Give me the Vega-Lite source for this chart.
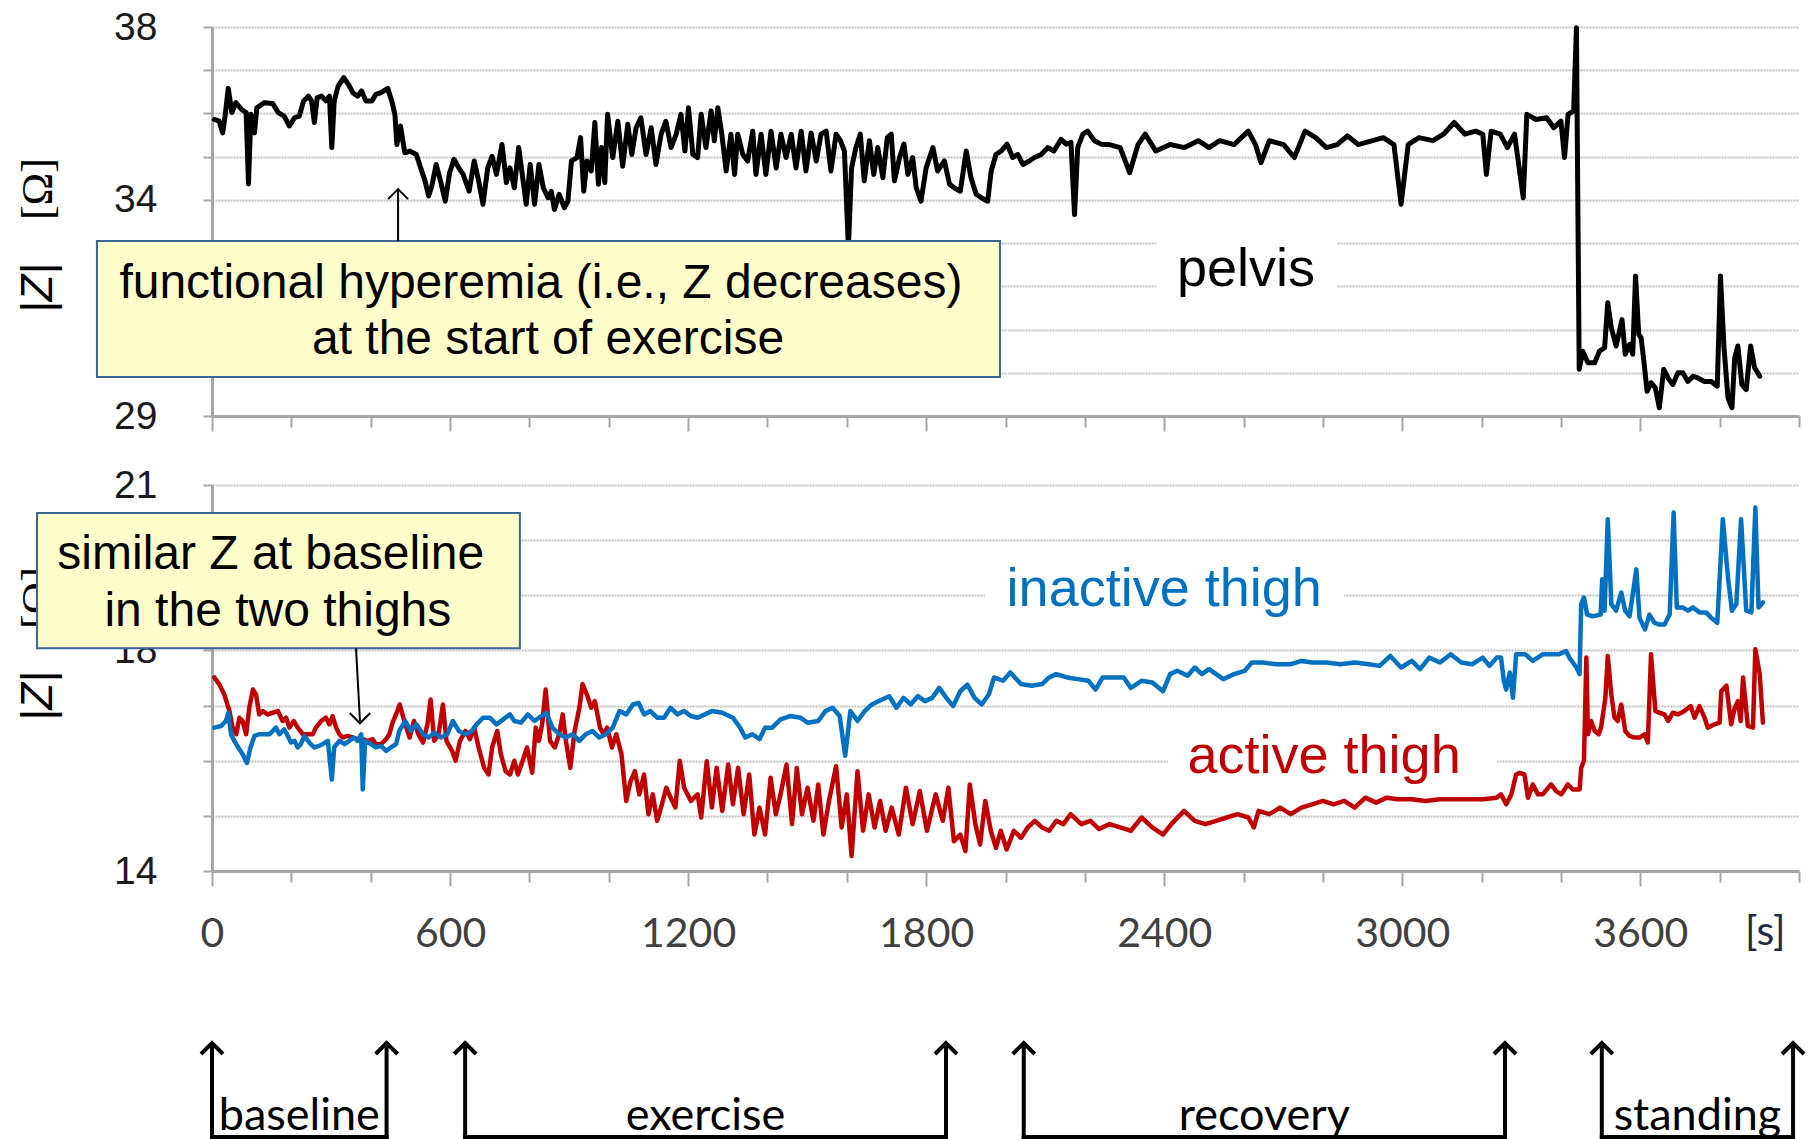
{
  "$schema": "https://vega.github.io/schema/vega-lite/v6.json",
  "background": "white",
  "padding": {"left": 17, "top": 8, "right": 0, "bottom": 0},
  "bounds": "flush",
  "spacing": 69,
  "config": {
    "view": {"stroke": null},
    "font": "Liberation Sans",
    "axis": {"labelOverlap": false, "labelFlush": false, "labelBound": false}
  },
  "resolve": {"scale": {"x": "independent", "y": "independent"}},
  "datasets": {
    "pelvis": [
      {"t":6,"z":35.86},{"t":18,"z":35.82},{"t":27,"z":35.55},{"t":33,"z":35.94},{"t":41,"z":36.58},{"t":50,"z":36.02},{"t":60,"z":36.25},{"t":75,"z":36.09},{"t":86,"z":36.02},{"t":92,"z":34.37},{"t":98,"z":35.98},{"t":107,"z":35.55},{"t":113,"z":36.13},{"t":132,"z":36.25},{"t":153,"z":36.23},{"t":167,"z":36.02},{"t":182,"z":35.94},{"t":195,"z":35.71},{"t":208,"z":35.90},{"t":220,"z":35.94},{"t":231,"z":36.29},{"t":243,"z":36.40},{"t":251,"z":36.29},{"t":258,"z":35.79},{"t":265,"z":36.36},{"t":276,"z":36.40},{"t":287,"z":36.29},{"t":296,"z":36.40},{"t":302,"z":35.21},{"t":308,"z":36.29},{"t":318,"z":36.63},{"t":332,"z":36.83},{"t":344,"z":36.67},{"t":355,"z":36.48},{"t":367,"z":36.40},{"t":377,"z":36.52},{"t":388,"z":36.29},{"t":403,"z":36.29},{"t":413,"z":36.44},{"t":426,"z":36.48},{"t":443,"z":36.58},{"t":453,"z":36.29},{"t":461,"z":35.98},{"t":466,"z":35.28},{"t":475,"z":35.71},{"t":486,"z":35.09},{"t":498,"z":35.13},{"t":515,"z":35.05},{"t":526,"z":34.74},{"t":537,"z":34.44},{"t":546,"z":34.09},{"t":554,"z":34.32},{"t":565,"z":34.82},{"t":577,"z":34.40},{"t":588,"z":33.97},{"t":599,"z":34.63},{"t":610,"z":34.94},{"t":622,"z":34.74},{"t":633,"z":34.59},{"t":648,"z":34.20},{"t":661,"z":34.90},{"t":672,"z":34.44},{"t":683,"z":33.90},{"t":695,"z":34.74},{"t":706,"z":35.01},{"t":717,"z":34.59},{"t":731,"z":35.28},{"t":742,"z":34.40},{"t":751,"z":34.74},{"t":762,"z":34.28},{"t":773,"z":35.21},{"t":782,"z":34.59},{"t":792,"z":33.90},{"t":802,"z":34.82},{"t":813,"z":33.90},{"t":824,"z":34.82},{"t":835,"z":34.28},{"t":847,"z":34.05},{"t":855,"z":34.20},{"t":863,"z":33.78},{"t":875,"z":34.13},{"t":888,"z":33.82},{"t":897,"z":33.97},{"t":906,"z":34.90},{"t":920,"z":34.98},{"t":929,"z":35.44},{"t":937,"z":34.20},{"t":945,"z":34.90},{"t":956,"z":34.67},{"t":965,"z":35.79},{"t":974,"z":34.36},{"t":982,"z":35.21},{"t":990,"z":34.40},{"t":997,"z":35.98},{"t":1010,"z":34.98},{"t":1023,"z":35.82},{"t":1035,"z":34.78},{"t":1048,"z":35.75},{"t":1058,"z":35.05},{"t":1069,"z":35.67},{"t":1081,"z":35.90},{"t":1094,"z":35.05},{"t":1107,"z":35.67},{"t":1119,"z":34.82},{"t":1132,"z":35.52},{"t":1144,"z":35.82},{"t":1157,"z":35.21},{"t":1170,"z":35.52},{"t":1182,"z":35.98},{"t":1192,"z":35.13},{"t":1201,"z":36.13},{"t":1212,"z":35.05},{"t":1224,"z":34.98},{"t":1233,"z":35.98},{"t":1245,"z":35.21},{"t":1258,"z":36.06},{"t":1266,"z":35.37},{"t":1275,"z":36.13},{"t":1285,"z":35.52},{"t":1296,"z":34.67},{"t":1308,"z":35.52},{"t":1317,"z":34.59},{"t":1325,"z":35.52},{"t":1338,"z":35.05},{"t":1350,"z":34.90},{"t":1363,"z":35.59},{"t":1371,"z":34.59},{"t":1384,"z":35.52},{"t":1396,"z":34.59},{"t":1409,"z":35.59},{"t":1422,"z":34.74},{"t":1434,"z":35.52},{"t":1447,"z":34.98},{"t":1460,"z":35.52},{"t":1472,"z":34.74},{"t":1485,"z":35.59},{"t":1497,"z":34.67},{"t":1510,"z":35.55},{"t":1523,"z":34.90},{"t":1535,"z":35.52},{"t":1548,"z":35.59},{"t":1560,"z":34.67},{"t":1573,"z":35.52},{"t":1584,"z":35.37},{"t":1594,"z":35.13},{"t":1604,"z":32.90},{"t":1612,"z":34.74},{"t":1623,"z":35.21},{"t":1634,"z":35.52},{"t":1644,"z":34.44},{"t":1657,"z":35.37},{"t":1668,"z":34.59},{"t":1678,"z":35.21},{"t":1691,"z":34.51},{"t":1702,"z":35.44},{"t":1712,"z":35.52},{"t":1720,"z":34.44},{"t":1733,"z":34.98},{"t":1744,"z":35.29},{"t":1754,"z":34.59},{"t":1766,"z":34.98},{"t":1775,"z":34.28},{"t":1787,"z":33.97},{"t":1800,"z":34.74},{"t":1817,"z":35.21},{"t":1829,"z":34.67},{"t":1846,"z":34.90},{"t":1859,"z":34.36},{"t":1871,"z":34.28},{"t":1886,"z":34.20},{"t":1901,"z":35.13},{"t":1913,"z":34.51},{"t":1926,"z":34.13},{"t":1939,"z":34.05},{"t":1955,"z":33.97},{"t":1964,"z":34.67},{"t":1976,"z":35.05},{"t":1989,"z":35.13},{"t":2004,"z":35.29},{"t":2018,"z":34.98},{"t":2031,"z":35.05},{"t":2044,"z":34.82},{"t":2060,"z":34.90},{"t":2073,"z":34.98},{"t":2090,"z":35.05},{"t":2107,"z":35.21},{"t":2122,"z":35.13},{"t":2140,"z":35.40},{"t":2153,"z":35.29},{"t":2165,"z":35.33},{"t":2174,"z":33.66},{"t":2182,"z":35.21},{"t":2195,"z":35.52},{"t":2207,"z":35.59},{"t":2224,"z":35.37},{"t":2241,"z":35.29},{"t":2262,"z":35.28},{"t":2289,"z":35.21},{"t":2313,"z":34.63},{"t":2334,"z":35.28},{"t":2352,"z":35.52},{"t":2379,"z":35.13},{"t":2415,"z":35.28},{"t":2451,"z":35.21},{"t":2486,"z":35.37},{"t":2513,"z":35.21},{"t":2540,"z":35.37},{"t":2576,"z":35.28},{"t":2612,"z":35.59},{"t":2630,"z":35.28},{"t":2644,"z":34.86},{"t":2665,"z":35.37},{"t":2701,"z":35.28},{"t":2728,"z":34.98},{"t":2755,"z":35.59},{"t":2782,"z":35.44},{"t":2809,"z":35.21},{"t":2836,"z":35.28},{"t":2862,"z":35.48},{"t":2889,"z":35.28},{"t":2925,"z":35.37},{"t":2952,"z":35.44},{"t":2979,"z":35.28},{"t":2997,"z":33.90},{"t":3015,"z":35.28},{"t":3042,"z":35.44},{"t":3077,"z":35.37},{"t":3104,"z":35.52},{"t":3131,"z":35.79},{"t":3158,"z":35.52},{"t":3185,"z":35.59},{"t":3203,"z":35.52},{"t":3212,"z":34.59},{"t":3224,"z":35.59},{"t":3247,"z":35.52},{"t":3265,"z":35.21},{"t":3283,"z":35.52},{"t":3305,"z":34.05},{"t":3314,"z":35.98},{"t":3337,"z":35.86},{"t":3364,"z":35.90},{"t":3382,"z":35.67},{"t":3400,"z":35.82},{"t":3409,"z":34.98},{"t":3418,"z":35.98},{"t":3432,"z":36.06},{"t":3439,"z":37.98},{"t":3446,"z":30.08},{"t":3455,"z":30.50},{"t":3468,"z":30.23},{"t":3485,"z":30.23},{"t":3497,"z":30.50},{"t":3510,"z":30.58},{"t":3518,"z":31.62},{"t":3527,"z":31.04},{"t":3539,"z":30.62},{"t":3554,"z":31.23},{"t":3562,"z":30.43},{"t":3573,"z":30.66},{"t":3581,"z":30.43},{"t":3588,"z":32.24},{"t":3596,"z":30.89},{"t":3602,"z":30.81},{"t":3609,"z":30.27},{"t":3617,"z":29.57},{"t":3627,"z":29.77},{"t":3638,"z":29.65},{"t":3648,"z":29.19},{"t":3659,"z":30.08},{"t":3670,"z":29.88},{"t":3682,"z":29.73},{"t":3695,"z":30.00},{"t":3707,"z":30.00},{"t":3720,"z":29.80},{"t":3733,"z":29.92},{"t":3745,"z":29.88},{"t":3762,"z":29.80},{"t":3779,"z":29.80},{"t":3794,"z":29.69},{"t":3802,"z":32.24},{"t":3811,"z":30.58},{"t":3821,"z":29.42},{"t":3831,"z":29.19},{"t":3838,"z":30.35},{"t":3846,"z":30.62},{"t":3856,"z":29.73},{"t":3867,"z":29.61},{"t":3878,"z":30.62},{"t":3888,"z":30.12},{"t":3901,"z":29.92}
    ],
    "active": [
      {"t":6,"z":17.51},{"t":18,"z":17.39},{"t":31,"z":17.20},{"t":44,"z":16.90},{"t":52,"z":16.60},{"t":61,"z":16.48},{"t":69,"z":16.78},{"t":77,"z":16.72},{"t":86,"z":16.48},{"t":94,"z":16.96},{"t":103,"z":17.29},{"t":111,"z":17.20},{"t":119,"z":16.84},{"t":128,"z":16.90},{"t":140,"z":16.84},{"t":153,"z":16.87},{"t":166,"z":16.90},{"t":178,"z":16.72},{"t":187,"z":16.78},{"t":195,"z":16.60},{"t":206,"z":16.72},{"t":216,"z":16.60},{"t":229,"z":16.48},{"t":241,"z":16.48},{"t":254,"z":16.48},{"t":262,"z":16.60},{"t":275,"z":16.72},{"t":287,"z":16.78},{"t":296,"z":16.66},{"t":304,"z":16.81},{"t":313,"z":16.60},{"t":321,"z":16.48},{"t":329,"z":16.42},{"t":342,"z":16.45},{"t":355,"z":16.42},{"t":367,"z":16.39},{"t":380,"z":16.39},{"t":392,"z":16.36},{"t":405,"z":16.39},{"t":413,"z":16.30},{"t":426,"z":16.30},{"t":439,"z":16.39},{"t":447,"z":16.48},{"t":455,"z":16.69},{"t":464,"z":16.84},{"t":473,"z":17.02},{"t":487,"z":16.66},{"t":498,"z":16.42},{"t":509,"z":16.72},{"t":520,"z":16.48},{"t":532,"z":16.33},{"t":543,"z":16.66},{"t":551,"z":17.11},{"t":560,"z":16.36},{"t":571,"z":16.48},{"t":582,"z":17.02},{"t":591,"z":16.36},{"t":605,"z":16.18},{"t":614,"z":16.00},{"t":625,"z":16.36},{"t":639,"z":16.54},{"t":650,"z":16.39},{"t":661,"z":16.60},{"t":672,"z":16.24},{"t":686,"z":15.87},{"t":697,"z":15.75},{"t":706,"z":16.24},{"t":719,"z":16.54},{"t":728,"z":16.12},{"t":740,"z":15.81},{"t":751,"z":15.75},{"t":762,"z":16.00},{"t":771,"z":15.75},{"t":783,"z":16.00},{"t":794,"z":16.24},{"t":807,"z":15.78},{"t":816,"z":16.60},{"t":824,"z":16.36},{"t":832,"z":16.66},{"t":841,"z":17.29},{"t":852,"z":16.36},{"t":864,"z":16.24},{"t":875,"z":16.48},{"t":884,"z":16.84},{"t":892,"z":16.36},{"t":903,"z":15.87},{"t":914,"z":16.54},{"t":926,"z":16.96},{"t":934,"z":17.39},{"t":945,"z":17.20},{"t":956,"z":16.96},{"t":965,"z":17.08},{"t":978,"z":16.60},{"t":987,"z":16.48},{"t":996,"z":16.60},{"t":1008,"z":16.24},{"t":1019,"z":16.48},{"t":1032,"z":16.12},{"t":1044,"z":15.27},{"t":1055,"z":15.63},{"t":1066,"z":15.81},{"t":1077,"z":15.39},{"t":1089,"z":15.75},{"t":1100,"z":15.03},{"t":1111,"z":15.39},{"t":1122,"z":14.91},{"t":1134,"z":15.21},{"t":1145,"z":15.51},{"t":1156,"z":15.33},{"t":1168,"z":15.15},{"t":1179,"z":16.00},{"t":1190,"z":15.51},{"t":1207,"z":15.27},{"t":1224,"z":15.39},{"t":1233,"z":14.97},{"t":1247,"z":15.99},{"t":1260,"z":15.15},{"t":1272,"z":15.87},{"t":1286,"z":15.09},{"t":1301,"z":15.93},{"t":1313,"z":15.21},{"t":1326,"z":15.87},{"t":1340,"z":15.03},{"t":1354,"z":15.75},{"t":1367,"z":14.66},{"t":1380,"z":15.15},{"t":1394,"z":14.66},{"t":1408,"z":15.69},{"t":1421,"z":15.03},{"t":1433,"z":15.39},{"t":1448,"z":15.93},{"t":1462,"z":14.85},{"t":1474,"z":15.87},{"t":1487,"z":15.03},{"t":1501,"z":15.51},{"t":1516,"z":14.91},{"t":1528,"z":15.57},{"t":1541,"z":14.66},{"t":1555,"z":15.27},{"t":1573,"z":15.90},{"t":1587,"z":14.79},{"t":1600,"z":15.39},{"t":1612,"z":14.27},{"t":1627,"z":15.81},{"t":1641,"z":14.73},{"t":1655,"z":15.39},{"t":1670,"z":14.79},{"t":1684,"z":15.27},{"t":1698,"z":14.73},{"t":1713,"z":15.15},{"t":1731,"z":14.66},{"t":1749,"z":15.51},{"t":1766,"z":14.85},{"t":1784,"z":15.45},{"t":1802,"z":14.73},{"t":1824,"z":15.39},{"t":1842,"z":14.91},{"t":1856,"z":15.51},{"t":1870,"z":14.54},{"t":1886,"z":14.66},{"t":1899,"z":14.36},{"t":1910,"z":15.57},{"t":1924,"z":14.85},{"t":1936,"z":14.48},{"t":1949,"z":15.27},{"t":1963,"z":14.73},{"t":1976,"z":14.42},{"t":1988,"z":14.73},{"t":2003,"z":14.39},{"t":2021,"z":14.73},{"t":2039,"z":14.60},{"t":2056,"z":14.79},{"t":2074,"z":14.91},{"t":2092,"z":14.79},{"t":2110,"z":14.73},{"t":2128,"z":14.91},{"t":2146,"z":14.85},{"t":2164,"z":15.03},{"t":2191,"z":14.85},{"t":2214,"z":14.91},{"t":2236,"z":14.76},{"t":2262,"z":14.85},{"t":2289,"z":14.79},{"t":2316,"z":14.73},{"t":2343,"z":14.97},{"t":2370,"z":14.79},{"t":2397,"z":14.66},{"t":2418,"z":14.85},{"t":2450,"z":15.09},{"t":2477,"z":14.91},{"t":2504,"z":14.85},{"t":2531,"z":14.91},{"t":2558,"z":14.97},{"t":2585,"z":15.03},{"t":2612,"z":14.97},{"t":2626,"z":14.79},{"t":2638,"z":15.09},{"t":2665,"z":15.03},{"t":2692,"z":15.15},{"t":2719,"z":15.03},{"t":2746,"z":15.15},{"t":2773,"z":15.21},{"t":2800,"z":15.27},{"t":2827,"z":15.21},{"t":2854,"z":15.27},{"t":2880,"z":15.15},{"t":2907,"z":15.33},{"t":2934,"z":15.24},{"t":2961,"z":15.33},{"t":2988,"z":15.30},{"t":3024,"z":15.30},{"t":3059,"z":15.27},{"t":3095,"z":15.30},{"t":3131,"z":15.30},{"t":3167,"z":15.30},{"t":3203,"z":15.30},{"t":3238,"z":15.33},{"t":3249,"z":15.39},{"t":3262,"z":15.21},{"t":3275,"z":15.39},{"t":3287,"z":15.75},{"t":3296,"z":15.78},{"t":3308,"z":15.75},{"t":3317,"z":15.33},{"t":3329,"z":15.57},{"t":3342,"z":15.39},{"t":3354,"z":15.39},{"t":3375,"z":15.57},{"t":3388,"z":15.45},{"t":3401,"z":15.39},{"t":3417,"z":15.57},{"t":3430,"z":15.48},{"t":3447,"z":15.48},{"t":3451,"z":15.87},{"t":3458,"z":16.00},{"t":3464,"z":17.87},{"t":3468,"z":16.48},{"t":3476,"z":16.72},{"t":3485,"z":16.54},{"t":3495,"z":16.48},{"t":3501,"z":16.60},{"t":3512,"z":17.14},{"t":3518,"z":17.90},{"t":3527,"z":17.20},{"t":3535,"z":16.78},{"t":3543,"z":16.72},{"t":3552,"z":17.02},{"t":3562,"z":16.54},{"t":3573,"z":16.45},{"t":3585,"z":16.42},{"t":3598,"z":16.42},{"t":3611,"z":16.48},{"t":3619,"z":16.33},{"t":3627,"z":17.93},{"t":3638,"z":16.90},{"t":3648,"z":16.87},{"t":3661,"z":16.84},{"t":3670,"z":16.72},{"t":3682,"z":16.87},{"t":3695,"z":16.84},{"t":3711,"z":16.90},{"t":3727,"z":16.99},{"t":3737,"z":16.78},{"t":3749,"z":16.99},{"t":3762,"z":16.78},{"t":3770,"z":16.60},{"t":3787,"z":16.66},{"t":3800,"z":16.69},{"t":3804,"z":17.26},{"t":3817,"z":17.36},{"t":3829,"z":16.66},{"t":3838,"z":16.96},{"t":3846,"z":17.08},{"t":3853,"z":16.72},{"t":3859,"z":17.51},{"t":3871,"z":16.63},{"t":3884,"z":16.60},{"t":3890,"z":18.02},{"t":3901,"z":17.57},{"t":3909,"z":16.69}
    ],
    "inactive": [
      {"t":6,"z":16.60},{"t":23,"z":16.63},{"t":35,"z":16.72},{"t":41,"z":16.87},{"t":48,"z":16.48},{"t":56,"z":16.36},{"t":66,"z":16.24},{"t":77,"z":16.12},{"t":88,"z":15.96},{"t":97,"z":16.24},{"t":107,"z":16.45},{"t":119,"z":16.48},{"t":132,"z":16.48},{"t":145,"z":16.48},{"t":153,"z":16.54},{"t":161,"z":16.60},{"t":170,"z":16.48},{"t":182,"z":16.57},{"t":191,"z":16.45},{"t":199,"z":16.33},{"t":208,"z":16.36},{"t":216,"z":16.24},{"t":224,"z":16.30},{"t":233,"z":16.45},{"t":245,"z":16.33},{"t":258,"z":16.24},{"t":270,"z":16.27},{"t":279,"z":16.30},{"t":292,"z":16.36},{"t":302,"z":15.66},{"t":308,"z":16.24},{"t":321,"z":16.36},{"t":334,"z":16.30},{"t":346,"z":16.36},{"t":357,"z":16.42},{"t":367,"z":16.36},{"t":376,"z":16.48},{"t":380,"z":15.48},{"t":386,"z":16.36},{"t":401,"z":16.30},{"t":413,"z":16.24},{"t":426,"z":16.27},{"t":439,"z":16.18},{"t":451,"z":16.24},{"t":464,"z":16.30},{"t":472,"z":16.54},{"t":487,"z":16.72},{"t":501,"z":16.54},{"t":515,"z":16.66},{"t":532,"z":16.48},{"t":546,"z":16.42},{"t":560,"z":16.51},{"t":577,"z":16.42},{"t":593,"z":16.48},{"t":607,"z":16.72},{"t":622,"z":16.54},{"t":639,"z":16.48},{"t":655,"z":16.54},{"t":667,"z":16.66},{"t":683,"z":16.78},{"t":700,"z":16.78},{"t":717,"z":16.66},{"t":734,"z":16.75},{"t":751,"z":16.84},{"t":762,"z":16.72},{"t":779,"z":16.69},{"t":796,"z":16.84},{"t":813,"z":16.72},{"t":830,"z":16.81},{"t":843,"z":16.87},{"t":858,"z":16.60},{"t":875,"z":16.48},{"t":892,"z":16.42},{"t":909,"z":16.48},{"t":926,"z":16.36},{"t":942,"z":16.48},{"t":959,"z":16.54},{"t":976,"z":16.42},{"t":993,"z":16.48},{"t":1010,"z":16.60},{"t":1027,"z":16.90},{"t":1044,"z":16.84},{"t":1061,"z":17.02},{"t":1075,"z":17.05},{"t":1089,"z":16.84},{"t":1105,"z":16.90},{"t":1122,"z":16.78},{"t":1139,"z":16.78},{"t":1156,"z":16.96},{"t":1173,"z":16.84},{"t":1190,"z":16.90},{"t":1207,"z":16.81},{"t":1224,"z":16.78},{"t":1260,"z":16.90},{"t":1286,"z":16.87},{"t":1313,"z":16.78},{"t":1331,"z":16.60},{"t":1344,"z":16.42},{"t":1362,"z":16.48},{"t":1380,"z":16.39},{"t":1394,"z":16.60},{"t":1412,"z":16.60},{"t":1433,"z":16.75},{"t":1457,"z":16.81},{"t":1483,"z":16.78},{"t":1501,"z":16.69},{"t":1528,"z":16.72},{"t":1546,"z":16.90},{"t":1564,"z":16.96},{"t":1582,"z":16.81},{"t":1596,"z":16.09},{"t":1609,"z":16.90},{"t":1627,"z":16.72},{"t":1645,"z":16.90},{"t":1663,"z":17.02},{"t":1689,"z":17.11},{"t":1707,"z":17.17},{"t":1725,"z":16.96},{"t":1743,"z":17.14},{"t":1761,"z":17.02},{"t":1779,"z":17.17},{"t":1797,"z":17.08},{"t":1815,"z":17.14},{"t":1833,"z":17.32},{"t":1851,"z":17.14},{"t":1868,"z":16.99},{"t":1886,"z":17.26},{"t":1904,"z":17.38},{"t":1922,"z":17.14},{"t":1940,"z":17.02},{"t":1958,"z":17.20},{"t":1971,"z":17.51},{"t":1994,"z":17.45},{"t":2012,"z":17.60},{"t":2039,"z":17.39},{"t":2066,"z":17.36},{"t":2092,"z":17.39},{"t":2110,"z":17.51},{"t":2128,"z":17.57},{"t":2155,"z":17.51},{"t":2182,"z":17.48},{"t":2209,"z":17.45},{"t":2227,"z":17.29},{"t":2245,"z":17.51},{"t":2271,"z":17.51},{"t":2298,"z":17.51},{"t":2316,"z":17.32},{"t":2343,"z":17.45},{"t":2370,"z":17.42},{"t":2397,"z":17.26},{"t":2415,"z":17.57},{"t":2433,"z":17.63},{"t":2459,"z":17.54},{"t":2477,"z":17.69},{"t":2495,"z":17.57},{"t":2513,"z":17.66},{"t":2531,"z":17.57},{"t":2549,"z":17.48},{"t":2576,"z":17.57},{"t":2603,"z":17.63},{"t":2621,"z":17.78},{"t":2648,"z":17.78},{"t":2683,"z":17.75},{"t":2719,"z":17.75},{"t":2746,"z":17.81},{"t":2773,"z":17.78},{"t":2809,"z":17.78},{"t":2844,"z":17.75},{"t":2880,"z":17.78},{"t":2916,"z":17.75},{"t":2943,"z":17.72},{"t":2970,"z":17.90},{"t":2997,"z":17.69},{"t":3024,"z":17.81},{"t":3045,"z":17.66},{"t":3068,"z":17.87},{"t":3095,"z":17.78},{"t":3122,"z":17.93},{"t":3149,"z":17.78},{"t":3176,"z":17.75},{"t":3203,"z":17.87},{"t":3220,"z":17.72},{"t":3238,"z":17.87},{"t":3249,"z":17.87},{"t":3256,"z":17.45},{"t":3262,"z":17.29},{"t":3271,"z":17.60},{"t":3279,"z":17.14},{"t":3287,"z":17.93},{"t":3310,"z":17.93},{"t":3329,"z":17.81},{"t":3354,"z":17.93},{"t":3375,"z":17.93},{"t":3395,"z":17.93},{"t":3413,"z":17.99},{"t":3421,"z":17.87},{"t":3430,"z":17.78},{"t":3439,"z":17.69},{"t":3447,"z":17.57},{"t":3451,"z":18.84},{"t":3458,"z":18.96},{"t":3466,"z":18.65},{"t":3480,"z":18.62},{"t":3500,"z":18.65},{"t":3504,"z":19.29},{"t":3510,"z":18.72},{"t":3518,"z":20.38},{"t":3527,"z":18.84},{"t":3539,"z":18.72},{"t":3552,"z":19.05},{"t":3562,"z":18.72},{"t":3573,"z":18.62},{"t":3590,"z":19.47},{"t":3598,"z":18.59},{"t":3612,"z":18.38},{"t":3623,"z":18.65},{"t":3636,"z":18.50},{"t":3648,"z":18.47},{"t":3661,"z":18.47},{"t":3674,"z":18.65},{"t":3684,"z":20.50},{"t":3692,"z":18.78},{"t":3707,"z":18.78},{"t":3720,"z":18.72},{"t":3733,"z":18.78},{"t":3749,"z":18.69},{"t":3766,"z":18.69},{"t":3779,"z":18.59},{"t":3794,"z":18.50},{"t":3808,"z":20.38},{"t":3821,"z":19.32},{"t":3831,"z":18.72},{"t":3842,"z":18.84},{"t":3854,"z":20.38},{"t":3867,"z":18.72},{"t":3880,"z":18.69},{"t":3890,"z":20.59},{"t":3898,"z":18.78},{"t":3909,"z":18.87}
    ],
    "phases": [
      {"phase": "baseline", "start": 0, "end": 440},
      {"phase": "exercise", "start": 638, "end": 1850},
      {"phase": "recovery", "start": 2046, "end": 3259},
      {"phase": "standing", "start": 3503, "end": 3985}
    ]
  },
  "vconcat": [
    {
      "width": 1587,
      "height": 389,
      "layer": [
        {
          "data": {"name": "pelvis"},
          "mark": {"type": "line", "color": "#000000", "strokeWidth": 5, "strokeJoin": "round", "strokeCap": "round"},
          "encoding": {
            "x": {"field": "t", "type": "quantitative", "title": null,
                  "scale": {"domain": [0, 4000], "nice": false, "zero": false},
                  "axis": {"values": [0,100,200,300,400,500,600,700,800,900,1000,1100,1200,1300,1400,1500,1600,1700,1800,1900,2000,2100,2200,2300,2400,2500,2600,2700,2800,2900,3000,3100,3200,3300,3400,3500,3600,3700,3800,3900,4000],
                           "title": null, "labels": false, "grid": false,
                           "domainColor": "#a6a6a6", "domainWidth": 3, "tickColor": "#a6a6a6", "tickWidth": 2,
                           "tickSize": {"condition": {"test": "datum.value % 600 === 0", "value": 15}, "value": 11}}},
            "y": {"field": "z", "type": "quantitative", "title": null,
                  "scale": {"domain": [29, 38], "nice": false, "zero": false},
                  "axis": {"values": [29,30,31,32,33,34,35,36,37,38], "title": null, "format": "d",
                           "grid": true, "gridColor": "#bfbfbf", "gridDash": [2, 1], "gridWidth": 2,
                           "domainColor": "#a6a6a6", "domainWidth": 3, "tickColor": "#a6a6a6", "tickWidth": 2, "tickSize": 9,
                           "labelExpr": "datum.value == 38 || datum.value == 34 || datum.value == 29 ? datum.label : ''",
                           "labelFont": "Liberation Sans", "labelFontSize": 39, "labelColor": "#1a1a1a",
                           "labelPadding": 46, "labelBaseline": "middle"}}
          }
        },
        {
          "data": {"values": [{}]},
          "mark": {"type": "rect", "fill": "white"},
          "encoding": {"x": {"datum": 2379, "type": "quantitative"}, "x2": {"datum": 2836},
                       "y": {"datum": 33.3, "type": "quantitative"}, "y2": {"datum": 31.7}}
        },
        {
          "data": {"values": [{}]},
          "mark": {"type": "text", "text": "pelvis", "font": "Liberation Sans", "fontSize": 54, "align": "center", "baseline": "alphabetic", "color": "#000000"},
          "encoding": {"x": {"datum": 2606, "type": "quantitative"}, "y": {"datum": 32.01, "type": "quantitative"}}
        },
        {
          "data": {"values": [{}]},
          "mark": {"type": "text", "text": "[Ω]", "font": "Liberation Serif", "fontSize": 44, "angle": 270, "align": "center", "baseline": "middle", "color": "#000000"},
          "encoding": {"x": {"datum": -436, "type": "quantitative"}, "y": {"datum": 34.25, "type": "quantitative"}}
        },
        {
          "data": {"values": [{}]},
          "mark": {"type": "text", "text": "|Z|", "font": "Liberation Sans", "fontStyle": "italic", "fontSize": 44, "angle": 270, "align": "center", "baseline": "middle", "color": "#000000"},
          "encoding": {"x": {"datum": -436, "type": "quantitative"}, "y": {"datum": 31.96, "type": "quantitative"}}
        },
        {
          "data": {"values": [{}]},
          "mark": {"type": "rect", "fill": "#FFFFCC", "stroke": "#3d6496", "strokeWidth": 2},
          "encoding": {"x": {"datum": -290, "type": "quantitative"}, "x2": {"datum": 1986},
                       "y": {"datum": 33.05, "type": "quantitative"}, "y2": {"datum": 29.9}}
        },
        {
          "data": {"values": [{}]},
          "mark": {"type": "text", "text": "functional hyperemia (i.e., Z decreases)", "font": "Liberation Sans", "fontSize": 48, "align": "center", "baseline": "alphabetic", "color": "#000000"},
          "encoding": {"x": {"datum": 829, "type": "quantitative"}, "y": {"datum": 31.73, "type": "quantitative"}}
        },
        {
          "data": {"values": [{}]},
          "mark": {"type": "text", "text": "at the start of exercise", "font": "Liberation Sans", "fontSize": 48, "align": "center", "baseline": "alphabetic", "color": "#000000"},
          "encoding": {"x": {"datum": 847, "type": "quantitative"}, "y": {"datum": 30.43, "type": "quantitative"}}
        },
        {
          "data": {"values": [{}]},
          "mark": {"type": "rule", "color": "#000000", "strokeWidth": 2},
          "encoding": {"x": {"datum": 469, "type": "quantitative"}, "y": {"datum": 33.05, "type": "quantitative"}, "y2": {"datum": 34.22}}
        },
        {
          "data": {"values": [{}]},
          "mark": {"type": "point", "shape": "M -1 1 L 0 0 L 1 1", "filled": false, "stroke": "#000000", "strokeWidth": 2, "size": 400, "opacity": 1},
          "encoding": {"x": {"datum": 469, "type": "quantitative"}, "y": {"datum": 34.25, "type": "quantitative"}}
        }
      ]
    },
    {
      "width": 1587,
      "height": 386,
      "layer": [
        {
          "data": {"name": "active"},
          "mark": {"type": "line", "color": "#C00000", "strokeWidth": 4.5, "strokeJoin": "round", "strokeCap": "round"},
          "encoding": {
            "x": {"field": "t", "type": "quantitative", "title": null,
                  "scale": {"domain": [0, 4000], "nice": false, "zero": false},
                  "axis": {"values": [0,100,200,300,400,500,600,700,800,900,1000,1100,1200,1300,1400,1500,1600,1700,1800,1900,2000,2100,2200,2300,2400,2500,2600,2700,2800,2900,3000,3100,3200,3300,3400,3500,3600,3700,3800,3900,4000],
                           "title": null, "grid": false, "format": "d",
                           "domainColor": "#a6a6a6", "domainWidth": 3, "tickColor": "#a6a6a6", "tickWidth": 2,
                           "tickSize": {"condition": {"test": "datum.value % 600 === 0", "value": 15}, "value": 11},
                           "labelExpr": "datum.value % 600 === 0 && datum.value <= 3600 ? datum.label : ''",
                           "labelFont": "Lato", "labelFontSize": 41, "labelColor": "#404040",
                           "labelAlign": "center", "labelBaseline": "middle", "labelPadding": 48}},
            "y": {"field": "z", "type": "quantitative", "title": null,
                  "scale": {"domain": [14, 21], "nice": false, "zero": false},
                  "axis": {"values": [14,15,16,17,18,19,20,21], "title": null, "format": "d",
                           "grid": true, "gridColor": "#bfbfbf", "gridDash": [2, 1], "gridWidth": 2,
                           "domainColor": "#a6a6a6", "domainWidth": 3, "tickColor": "#a6a6a6", "tickWidth": 2, "tickSize": 9,
                           "labelExpr": "datum.value == 21 || datum.value == 18 || datum.value == 14 ? datum.label : ''",
                           "labelFont": "Liberation Sans", "labelFontSize": 39, "labelColor": "#1a1a1a",
                           "labelPadding": 46, "labelBaseline": "middle"}}
          }
        },
        {
          "data": {"name": "inactive"},
          "mark": {"type": "line", "color": "#0070C0", "strokeWidth": 4.5, "strokeJoin": "round", "strokeCap": "round"},
          "encoding": {
            "x": {"field": "t", "type": "quantitative", "title": null},
            "y": {"field": "z", "type": "quantitative", "title": null}
          }
        },
        {
          "data": {"values": [{}]},
          "mark": {"type": "text", "text": "[s]", "font": "Lato", "fontSize": 41, "align": "center", "baseline": "middle", "color": "#1f2a48"},
          "encoding": {"x": {"datum": 3915, "type": "quantitative"}, "y": {"datum": 12.87, "type": "quantitative"}}
        },
        {
          "data": {"values": [{}]},
          "mark": {"type": "rect", "fill": "white"},
          "encoding": {"x": {"datum": 1948, "type": "quantitative"}, "x2": {"datum": 2853},
                       "y": {"datum": 19.6, "type": "quantitative"}, "y2": {"datum": 18.5}}
        },
        {
          "data": {"values": [{}]},
          "mark": {"type": "rect", "fill": "white"},
          "encoding": {"x": {"datum": 2410, "type": "quantitative"}, "x2": {"datum": 3239},
                       "y": {"datum": 16.63, "type": "quantitative"}, "y2": {"datum": 15.4}}
        },
        {
          "data": {"values": [{}]},
          "mark": {"type": "text", "text": "inactive thigh", "font": "Liberation Sans", "fontSize": 54, "align": "center", "baseline": "alphabetic", "color": "#0070C0"},
          "encoding": {"x": {"datum": 2400, "type": "quantitative"}, "y": {"datum": 18.81, "type": "quantitative"}}
        },
        {
          "data": {"values": [{}]},
          "mark": {"type": "text", "text": "active thigh", "font": "Liberation Sans", "fontSize": 54, "align": "center", "baseline": "alphabetic", "color": "#C00000"},
          "encoding": {"x": {"datum": 2803, "type": "quantitative"}, "y": {"datum": 15.78, "type": "quantitative"}}
        },
        {
          "data": {"values": [{}]},
          "mark": {"type": "text", "text": "[Ω]", "font": "Liberation Serif", "fontSize": 44, "angle": 270, "align": "center", "baseline": "middle", "color": "#000000"},
          "encoding": {"x": {"datum": -436, "type": "quantitative"}, "y": {"datum": 18.95, "type": "quantitative"}}
        },
        {
          "data": {"values": [{}]},
          "mark": {"type": "text", "text": "|Z|", "font": "Liberation Sans", "fontStyle": "italic", "fontSize": 44, "angle": 270, "align": "center", "baseline": "middle", "color": "#000000"},
          "encoding": {"x": {"datum": -436, "type": "quantitative"}, "y": {"datum": 17.17, "type": "quantitative"}}
        },
        {
          "data": {"values": [{}]},
          "mark": {"type": "rect", "fill": "#FFFFCC", "stroke": "#3d6496", "strokeWidth": 2},
          "encoding": {"x": {"datum": -441, "type": "quantitative"}, "x2": {"datum": 776},
                       "y": {"datum": 20.49, "type": "quantitative"}, "y2": {"datum": 18.04}}
        },
        {
          "data": {"values": [{}]},
          "mark": {"type": "text", "text": "similar Z at baseline", "font": "Liberation Sans", "fontSize": 48, "align": "center", "baseline": "alphabetic", "color": "#000000"},
          "encoding": {"x": {"datum": 148, "type": "quantitative"}, "y": {"datum": 19.48, "type": "quantitative"}}
        },
        {
          "data": {"values": [{}]},
          "mark": {"type": "text", "text": "in the two thighs", "font": "Liberation Sans", "fontSize": 48, "align": "center", "baseline": "alphabetic", "color": "#000000"},
          "encoding": {"x": {"datum": 166, "type": "quantitative"}, "y": {"datum": 18.44, "type": "quantitative"}}
        },
        {
          "data": {"values": [{}]},
          "mark": {"type": "rule", "color": "#000000", "strokeWidth": 2},
          "encoding": {"x": {"datum": 363, "type": "quantitative"}, "x2": {"datum": 373},
                       "y": {"datum": 18.04, "type": "quantitative"}, "y2": {"datum": 16.71}}
        },
        {
          "data": {"values": [{}]},
          "mark": {"type": "point", "shape": "M -1 -1 L 0 0 L 1 -1", "filled": false, "stroke": "#000000", "strokeWidth": 2, "size": 420, "opacity": 1},
          "encoding": {"x": {"datum": 373, "type": "quantitative"}, "y": {"datum": 16.68, "type": "quantitative"}}
        }
      ]
    },
    {
      "width": 1587,
      "height": 200,
      "data": {"name": "phases"},
      "encoding": {
        "x": {"field": "start", "type": "quantitative", "title": null, "axis": null,
              "scale": {"domain": [0, 4000], "nice": false, "zero": false}}
      },
      "layer": [
        {
          "mark": {"type": "rule", "color": "#000000", "strokeWidth": 4, "strokeCap": "square"},
          "encoding": {"y": {"datum": 0.015, "type": "quantitative", "scale": {"domain": [0, 1], "nice": false, "zero": false}, "axis": null}, "y2": {"datum": 0.48}}
        },
        {
          "mark": {"type": "rule", "color": "#000000", "strokeWidth": 4, "strokeCap": "square"},
          "encoding": {"x": {"field": "end", "type": "quantitative"}, "y": {"datum": 0.015, "type": "quantitative"}, "y2": {"datum": 0.48}}
        },
        {
          "mark": {"type": "rule", "color": "#000000", "strokeWidth": 4, "strokeCap": "square"},
          "encoding": {"x2": {"field": "end"}, "y": {"datum": 0.015, "type": "quantitative"}}
        },
        {
          "mark": {"type": "point", "shape": "M -1 1 L 0 0 L 1 1", "filled": false, "stroke": "#000000", "strokeWidth": 4, "size": 484, "opacity": 1},
          "encoding": {"y": {"datum": 0.485, "type": "quantitative"}}
        },
        {
          "mark": {"type": "point", "shape": "M -1 1 L 0 0 L 1 1", "filled": false, "stroke": "#000000", "strokeWidth": 4, "size": 484, "opacity": 1},
          "encoding": {"x": {"field": "end", "type": "quantitative"}, "y": {"datum": 0.485, "type": "quantitative"}}
        },
        {
          "transform": [{"calculate": "(datum.start + datum.end) / 2", "as": "mid"}],
          "mark": {"type": "text", "font": "Lato", "fontSize": 45, "align": "center", "baseline": "alphabetic", "color": "#000000"},
          "encoding": {"x": {"field": "mid", "type": "quantitative"}, "y": {"datum": 0.05, "type": "quantitative"}, "text": {"field": "phase"}}
        }
      ]
    }
  ]
}
